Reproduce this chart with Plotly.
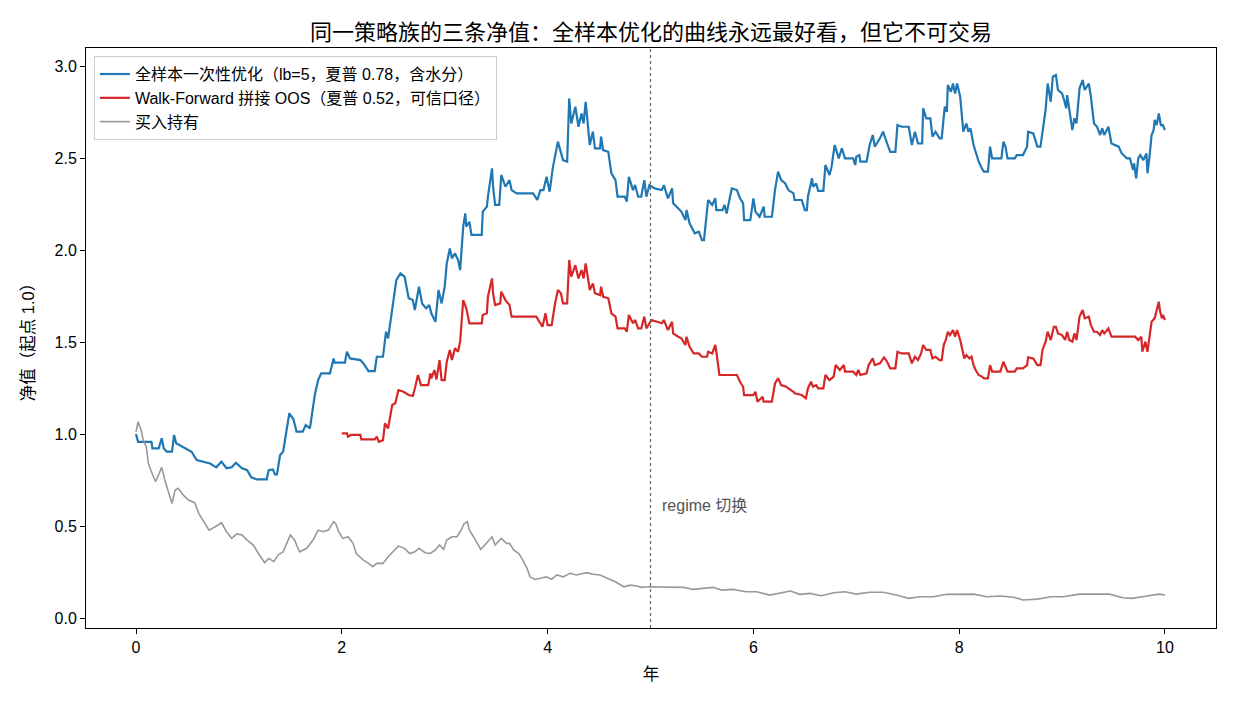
import plotly.graph_objects as go

title_text = "同一策略族的三条净值：全样本优化的曲线永远最好看，但它不可交易"
name_insample = "全样本一次性优化（lb=5，夏普 0.78，含水分）"
name_wf = "Walk-Forward 拼接 OOS（夏普 0.52，可信口径）"
name_bh = "买入持有"
x_title = "年"
y_title = "净值（起点 1.0）"
regime_year = 5.0
regime_label = "regime 切换"
x_ticks = [0, 2, 4, 6, 8, 10]
y_ticks = [0.0, 0.5, 1.0, 1.5, 2.0, 2.5, 3.0]

insample = [(0,1.0),(0.02,0.958),(0.15,0.958),(0.16,0.922),(0.22,0.922),(0.25,0.977),(0.27,0.922),(0.30,0.904),(0.35,0.904),(0.37,0.995),(0.39,0.95),(0.44,0.935),(0.49,0.922),(0.54,0.904),(0.59,0.859),(0.65,0.85),(0.72,0.84),(0.78,0.819),(0.83,0.85),(0.88,0.814),(0.93,0.82),(0.97,0.844),(1.03,0.814),(1.08,0.804),(1.12,0.765),(1.17,0.754),(1.27,0.754),(1.29,0.804),(1.33,0.808),(1.35,0.781),(1.37,0.781),(1.40,0.886),(1.43,0.904),(1.49,1.113),(1.53,1.08),(1.56,1.013),(1.62,1.013),(1.65,1.049),(1.69,1.031),(1.74,1.221),(1.77,1.293),(1.80,1.33),(1.885,1.33),(1.92,1.411),(1.93,1.388),(2.03,1.388),(2.05,1.447),(2.08,1.411),(2.18,1.402),(2.21,1.384),(2.26,1.342),(2.32,1.342),(2.34,1.42),(2.40,1.42),(2.43,1.556),(2.45,1.52),(2.50,1.728),(2.53,1.837),(2.57,1.873),(2.61,1.855),(2.65,1.738),(2.69,1.728),(2.71,1.674),(2.75,1.801),(2.78,1.71),(2.82,1.683),(2.85,1.701),(2.87,1.656),(2.91,1.61),(2.94,1.783),(2.97,1.71),(3.00,1.801),(3.02,1.927),(3.05,2.009),(3.07,1.955),(3.10,1.982),(3.13,1.946),(3.15,1.891),(3.18,2.127),(3.20,2.199),(3.21,2.127),(3.24,2.154),(3.26,2.082),(3.36,2.082),(3.37,2.209),(3.41,2.236),(3.42,2.29),(3.46,2.444),(3.47,2.344),(3.49,2.245),(3.53,2.245),(3.55,2.408),(3.59,2.344),(3.63,2.38),(3.65,2.326),(3.70,2.308),(3.86,2.308),(3.90,2.272),(3.93,2.326),(3.96,2.326),(3.99,2.398),(4.02,2.317),(4.05,2.444),(4.10,2.589),(4.15,2.489),(4.19,2.48),(4.21,2.824),(4.23,2.688),(4.27,2.779),(4.30,2.67),(4.33,2.742),(4.35,2.688),(4.37,2.806),(4.41,2.571),(4.44,2.643),(4.46,2.553),(4.51,2.553),(4.52,2.616),(4.54,2.543),(4.59,2.534),(4.62,2.417),(4.66,2.38),(4.68,2.29),(4.75,2.29),(4.77,2.263),(4.79,2.398),(4.83,2.326),(4.85,2.353),(4.88,2.29),(4.91,2.29),(4.94,2.38),(4.96,2.29),(4.99,2.353),(5.04,2.335),(5.11,2.326),(5.13,2.353),(5.17,2.281),(5.21,2.335),(5.22,2.254),(5.27,2.226),(5.30,2.209),(5.34,2.163),(5.35,2.217),(5.38,2.145),(5.43,2.091),(5.47,2.1),(5.50,2.054),(5.52,2.054),(5.55,2.245),(5.56,2.272),(5.60,2.245),(5.63,2.281),(5.64,2.217),(5.70,2.217),(5.72,2.245),(5.74,2.199),(5.79,2.335),(5.84,2.326),(5.87,2.281),(5.90,2.254),(5.91,2.163),(5.97,2.163),(6.00,2.281),(6.02,2.209),(6.06,2.181),(6.10,2.236),(6.11,2.181),(6.18,2.181),(6.21,2.326),(6.24,2.426),(6.27,2.38),(6.31,2.362),(6.34,2.326),(6.39,2.308),(6.40,2.272),(6.47,2.272),(6.50,2.217),(6.52,2.217),(6.53,2.29),(6.57,2.39),(6.58,2.344),(6.61,2.362),(6.63,2.322),(6.68,2.322),(6.70,2.462),(6.74,2.408),(6.76,2.453),(6.79,2.571),(6.83,2.498),(6.86,2.553),(6.89,2.498),(6.97,2.498),(6.99,2.462),(7.00,2.507),(7.03,2.516),(7.04,2.48),(7.10,2.48),(7.13,2.571),(7.16,2.625),(7.18,2.562),(7.23,2.607),(7.26,2.643),(7.30,2.579),(7.33,2.534),(7.38,2.534),(7.40,2.679),(7.44,2.67),(7.51,2.67),(7.54,2.571),(7.57,2.643),(7.60,2.579),(7.64,2.579),(7.65,2.77),(7.68,2.716),(7.72,2.716),(7.74,2.616),(7.77,2.643),(7.81,2.607),(7.83,2.607),(7.85,2.742),(7.86,2.779),(7.88,2.751),(7.89,2.897),(7.92,2.86),(7.94,2.905),(7.96,2.851),(7.98,2.905),(8.01,2.833),(8.02,2.77),(8.04,2.643),(8.07,2.688),(8.09,2.643),(8.11,2.661),(8.14,2.571),(8.16,2.534),(8.19,2.48),(8.22,2.444),(8.24,2.426),(8.28,2.426),(8.30,2.562),(8.32,2.498),(8.41,2.498),(8.43,2.589),(8.45,2.562),(8.47,2.498),(8.54,2.498),(8.56,2.516),(8.62,2.516),(8.66,2.562),(8.67,2.643),(8.72,2.634),(8.76,2.562),(8.79,2.562),(8.82,2.679),(8.84,2.761),(8.86,2.905),(8.89,2.806),(8.91,2.942),(8.94,2.951),(8.96,2.87),(9.00,2.851),(9.02,2.815),(9.04,2.77),(9.05,2.842),(9.07,2.77),(9.10,2.652),(9.12,2.716),(9.14,2.688),(9.17,2.879),(9.20,2.924),(9.22,2.87),(9.26,2.905),(9.28,2.833),(9.31,2.688),(9.34,2.67),(9.37,2.625),(9.39,2.661),(9.41,2.625),(9.45,2.67),(9.48,2.579),(9.55,2.562),(9.58,2.525),(9.63,2.498),(9.66,2.498),(9.69,2.435),(9.70,2.471),(9.72,2.39),(9.74,2.498),(9.76,2.516),(9.79,2.489),(9.82,2.525),(9.83,2.417),(9.85,2.507),(9.87,2.625),(9.89,2.652),(9.90,2.707),(9.92,2.679),(9.94,2.742),(9.96,2.679),(9.98,2.679),(10.0,2.652)]

walkforward = [(2.00,1.004),(2.05,1.004),(2.06,0.986),(2.09,0.995),(2.18,0.995),(2.19,0.971),(2.32,0.971),(2.34,0.986),(2.36,0.958),(2.40,0.967),(2.42,1.058),(2.45,1.031),(2.49,1.158),(2.52,1.167),(2.55,1.239),(2.60,1.23),(2.65,1.212),(2.69,1.207),(2.71,1.248),(2.74,1.321),(2.77,1.266),(2.84,1.266),(2.86,1.33),(2.87,1.303),(2.90,1.348),(2.92,1.297),(2.95,1.402),(2.97,1.293),(3.00,1.293),(3.02,1.393),(3.05,1.457),(3.07,1.402),(3.10,1.466),(3.13,1.447),(3.15,1.502),(3.18,1.728),(3.21,1.683),(3.24,1.602),(3.36,1.602),(3.37,1.647),(3.41,1.656),(3.42,1.746),(3.46,1.846),(3.47,1.765),(3.49,1.701),(3.54,1.71),(3.55,1.774),(3.59,1.728),(3.63,1.701),(3.65,1.638),(3.89,1.638),(3.92,1.61),(3.95,1.583),(3.98,1.656),(4.00,1.592),(4.04,1.592),(4.07,1.701),(4.10,1.783),(4.13,1.765),(4.15,1.71),(4.19,1.71),(4.21,1.946),(4.23,1.855),(4.27,1.918),(4.30,1.846),(4.33,1.891),(4.35,1.846),(4.37,1.927),(4.41,1.783),(4.44,1.819),(4.46,1.765),(4.51,1.755),(4.52,1.801),(4.54,1.746),(4.59,1.738),(4.62,1.656),(4.66,1.638),(4.68,1.574),(4.75,1.574),(4.77,1.556),(4.79,1.647),(4.83,1.602),(4.85,1.62),(4.88,1.574),(4.91,1.574),(4.94,1.638),(4.96,1.574),(5.01,1.62),(5.06,1.61),(5.11,1.602),(5.13,1.62),(5.17,1.565),(5.21,1.61),(5.22,1.547),(5.27,1.529),(5.30,1.52),(5.34,1.484),(5.35,1.529),(5.38,1.474),(5.42,1.438),(5.47,1.438),(5.50,1.42),(5.55,1.42),(5.56,1.447),(5.60,1.438),(5.63,1.484),(5.64,1.447),(5.67,1.321),(5.84,1.321),(5.87,1.284),(5.90,1.257),(5.91,1.212),(6.00,1.212),(6.02,1.23),(6.04,1.176),(6.09,1.203),(6.10,1.176),(6.18,1.176),(6.21,1.275),(6.24,1.303),(6.27,1.266),(6.32,1.257),(6.34,1.248),(6.39,1.23),(6.40,1.221),(6.47,1.212),(6.51,1.194),(6.53,1.248),(6.56,1.284),(6.58,1.257),(6.61,1.266),(6.63,1.248),(6.68,1.248),(6.70,1.321),(6.74,1.293),(6.78,1.312),(6.80,1.375),(6.84,1.348),(6.88,1.375),(6.89,1.339),(6.97,1.339),(7.00,1.321),(7.02,1.348),(7.04,1.321),(7.10,1.33),(7.12,1.375),(7.16,1.411),(7.18,1.375),(7.23,1.384),(7.27,1.417),(7.30,1.393),(7.33,1.357),(7.38,1.357),(7.40,1.447),(7.44,1.438),(7.51,1.438),(7.54,1.384),(7.57,1.42),(7.60,1.402),(7.63,1.438),(7.65,1.484),(7.68,1.457),(7.72,1.457),(7.74,1.411),(7.77,1.42),(7.81,1.402),(7.83,1.402),(7.85,1.484),(7.87,1.511),(7.89,1.556),(7.91,1.538),(7.94,1.565),(7.96,1.529),(7.98,1.565),(8.01,1.511),(8.03,1.457),(8.05,1.411),(8.07,1.429),(8.10,1.411),(8.12,1.42),(8.14,1.375),(8.16,1.348),(8.19,1.321),(8.22,1.312),(8.24,1.303),(8.28,1.303),(8.30,1.375),(8.32,1.339),(8.40,1.339),(8.43,1.393),(8.45,1.366),(8.47,1.339),(8.54,1.339),(8.56,1.357),(8.62,1.357),(8.66,1.375),(8.67,1.417),(8.72,1.411),(8.76,1.375),(8.79,1.375),(8.81,1.457),(8.84,1.502),(8.86,1.556),(8.89,1.511),(8.92,1.583),(8.94,1.583),(8.96,1.547),(9.00,1.538),(9.03,1.511),(9.05,1.556),(9.07,1.511),(9.10,1.502),(9.12,1.547),(9.14,1.511),(9.17,1.638),(9.20,1.674),(9.22,1.629),(9.26,1.638),(9.28,1.592),(9.31,1.556),(9.34,1.556),(9.37,1.538),(9.39,1.565),(9.41,1.547),(9.45,1.574),(9.48,1.529),(9.71,1.529),(9.74,1.511),(9.77,1.529),(9.78,1.447),(9.81,1.502),(9.83,1.447),(9.85,1.529),(9.87,1.61),(9.90,1.629),(9.92,1.674),(9.94,1.719),(9.95,1.674),(9.97,1.629),(9.98,1.647),(10.0,1.62)]

buyhold = [(0,1.012),(0.02,1.067),(0.05,1.022),(0.07,0.967),(0.10,0.931),(0.12,0.841),(0.15,0.795),(0.19,0.741),(0.25,0.819),(0.28,0.75),(0.35,0.623),(0.38,0.696),(0.41,0.705),(0.46,0.668),(0.51,0.641),(0.57,0.627),(0.61,0.569),(0.65,0.533),(0.71,0.478),(0.77,0.496),(0.83,0.518),(0.88,0.469),(0.93,0.433),(0.98,0.457),(1.03,0.451),(1.08,0.424),(1.14,0.397),(1.19,0.351),(1.25,0.301),(1.29,0.324),(1.34,0.306),(1.38,0.342),(1.43,0.36),(1.50,0.451),(1.54,0.424),(1.59,0.36),(1.66,0.379),(1.72,0.424),(1.77,0.478),(1.82,0.469),(1.87,0.478),(1.92,0.524),(1.94,0.514),(1.97,0.469),(2.01,0.433),(2.06,0.442),(2.11,0.406),(2.14,0.351),(2.21,0.315),(2.26,0.297),(2.30,0.279),(2.34,0.297),(2.40,0.297),(2.45,0.333),(2.50,0.36),(2.55,0.391),(2.61,0.379),(2.66,0.351),(2.71,0.36),(2.75,0.379),(2.81,0.355),(2.86,0.351),(2.91,0.37),(2.95,0.397),(2.99,0.373),(3.02,0.424),(3.07,0.442),(3.12,0.442),(3.15,0.469),(3.19,0.514),(3.22,0.524),(3.24,0.478),(3.28,0.442),(3.31,0.415),(3.35,0.373),(3.39,0.397),(3.42,0.415),(3.46,0.442),(3.49,0.397),(3.52,0.415),(3.55,0.433),(3.60,0.406),(3.63,0.406),(3.67,0.37),(3.72,0.351),(3.75,0.324),(3.80,0.27),(3.83,0.224),(3.88,0.21),(3.93,0.216),(3.99,0.224),(4.04,0.21),(4.09,0.234),(4.15,0.224),(4.22,0.243),(4.28,0.234),(4.38,0.247),(4.44,0.238),(4.51,0.234),(4.58,0.216),(4.66,0.197),(4.74,0.17),(4.80,0.179),(4.87,0.174),(4.91,0.167),(4.99,0.17),(5.09,0.17),(5.22,0.17),(5.32,0.167),(5.41,0.156),(5.51,0.161),(5.61,0.167),(5.69,0.152),(5.80,0.156),(5.93,0.143),(6.03,0.143),(6.16,0.125),(6.26,0.138),(6.36,0.147),(6.45,0.129),(6.55,0.134),(6.66,0.121),(6.78,0.138),(6.89,0.143),(7.00,0.13),(7.13,0.14),(7.26,0.14),(7.39,0.125),(7.51,0.107),(7.62,0.116),(7.75,0.116),(7.88,0.129),(8.01,0.13),(8.14,0.13),(8.27,0.116),(8.40,0.12),(8.53,0.113),(8.62,0.098),(8.76,0.103),(8.89,0.116),(9.01,0.116),(9.17,0.13),(9.34,0.13),(9.46,0.13),(9.59,0.11),(9.68,0.107),(9.78,0.116),(9.87,0.125),(9.94,0.13),(10.0,0.125)]

FONT = "Liberation Sans, Noto Sans CJK SC, sans-serif"

def xs(pairs):
    return [p[0] for p in pairs]

def ys(pairs):
    return [p[1] for p in pairs]

fig = go.Figure()
fig.add_trace(go.Scatter(x=xs(insample), y=ys(insample), mode="lines", name=name_insample,
                         legendgroup="a", line=dict(color="#1f77b4", width=2.2)))
fig.add_trace(go.Scatter(x=xs(walkforward), y=ys(walkforward), mode="lines", name=name_wf,
                         legendgroup="b", line=dict(color="#d62728", width=2.2)))
fig.add_trace(go.Scatter(x=xs(buyhold), y=ys(buyhold), mode="lines", name=name_bh,
                         legendgroup="c", line=dict(color="#999999", width=1.6)))

fig.add_shape(type="line", x0=regime_year, x1=regime_year, y0=0, y1=1, xref="x", yref="paper",
              line=dict(color="#666666", width=1.2, dash="dot"))
fig.add_annotation(x=regime_year + 0.09, y=0.614, xref="x", yref="y", text=regime_label,
                   showarrow=False, xanchor="left", yanchor="middle",
                   font=dict(family=FONT, size=16, color="#555555"))

axis_common = dict(showline=True, linecolor="black", linewidth=1, mirror=True,
                   ticks="outside", ticklen=5, tickcolor="black", showgrid=False, zeroline=False,
                   tickfont=dict(family=FONT, size=16, color="black"))

fig.update_layout(
    width=1235, height=702,
    paper_bgcolor="white", plot_bgcolor="white",
    margin=dict(l=86, r=19, t=48, b=74),
    title=dict(text=title_text, x=0.5, xref="paper", xanchor="center", y=0.954, yanchor="middle",
               font=dict(family=FONT, size=22, color="black")),
    font=dict(family=FONT, color="black"),
    xaxis=dict(range=[-0.486, 10.496], tickvals=x_ticks, ticktext=[str(t) for t in x_ticks],
               title=dict(text=x_title, font=dict(family=FONT, size=16.5), standoff=13), **axis_common),
    yaxis=dict(range=[-0.054, 3.098], tickvals=y_ticks, ticktext=[f"{t:.1f}" for t in y_ticks],
               title=dict(text=y_title, font=dict(family=FONT, size=16.5), standoff=15), **axis_common),
    legend=dict(x=0.007, y=0.986, xanchor="left", yanchor="top", bgcolor="rgba(255,255,255,0.85)",
                bordercolor="#cccccc", borderwidth=1, font=dict(family=FONT, size=16),
                tracegroupgap=0, itemwidth=30),
    showlegend=True,
)

fig.write_html("out.html")
